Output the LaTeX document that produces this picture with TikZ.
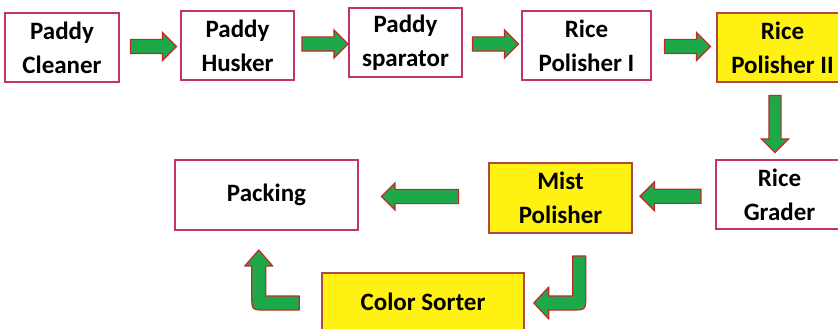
\documentclass[tikz,border=0pt]{standalone}
\usepackage{fontspec}
\setmainfont{Carlito}
\usepackage{tikz}
\usetikzlibrary{shapes.arrows,positioning}
\definecolor{BoxEdge}{HTML}{C0336B}
\definecolor{SortEdge}{HTML}{B04848}
\definecolor{Lemon}{HTML}{FFF212}
\definecolor{LeafGreen}{HTML}{1DA84A}
\definecolor{ArrowRim}{HTML}{C62828}

\begin{document}
\begin{tikzpicture}[x=1pt, y=-1pt,
  stage/.style={draw=BoxEdge, line width=1.5pt, fill=white, minimum height=69pt,
    align=center, inner sep=2pt, font=\bfseries\fontsize{25}{34}\selectfont},
  hot/.style={stage, draw=SortEdge, fill=Lemon},
  flowarrow/.style={single arrow, draw=ArrowRim, fill=LeafGreen, line width=1.2pt,
    inner xsep=0pt, inner ysep=6.5pt, single arrow head extend=7pt, minimum width=0pt},
  bentarrow/.style={draw=ArrowRim, fill=LeafGreen, line width=1.2pt, line join=round}]
  \fill[white] (0,0) rectangle (838,329);
  \useasboundingbox (0,0) rectangle (838,329);
  % top row
  \node[stage, minimum width=114pt] (cleaner) at (62,47.5) {Paddy\\Cleaner};
  \node[stage, minimum width=113pt] (husker) at (237.5,45.5) {Paddy\\Husker};
  \node[stage, minimum width=113pt] (separator) at (405.5,42.5) {Paddy\\sparator};
  \node[stage, minimum width=129pt] (polishA) at (586.5,45.5) {Rice\\Polisher I};
  \node[hot, minimum width=131pt] (polishB) at (782.5,47.5) {Rice\\Polisher II};
  % bottom rows
  \node[stage, minimum width=127pt] (grader) at (779.5,194.5) {Rice\\Grader};
  \node[hot, minimum width=143pt, minimum height=70pt] (mist) at (560.5,198) {Mist\\Polisher};
  \node[stage, minimum width=183pt, minimum height=70pt] (packing) at (266.5,195) {Packing};
  \node[hot, minimum width=202pt, minimum height=58pt] (sorter) at (423,302) {Color Sorter};
  % straight arrows
  \foreach \a/\b in {cleaner/husker, husker/separator, separator/polishA, polishA/polishB}
    \path (\a.east) -- (\b.west) node[midway, flowarrow, minimum height=46pt] {};
  \path ([xshift=-6pt]polishB.south) -- ([xshift=-6pt]grader.north)
    node[midway, flowarrow, rotate=-90, minimum height=57pt, inner ysep=5.5pt,
      single arrow head extend=7.5pt] {};
  \path (grader.west) -- (mist.east)
    node[midway, flowarrow, rotate=180, minimum height=61pt, single arrow head extend=7.5pt] {};
  \path (mist.west) -- (packing.east)
    node[midway, flowarrow, rotate=180, minimum height=77pt, single arrow head extend=6.5pt] {};
  % bent arrows round the sorter
  \begin{scope}[shift={(sorter.east)}]
    \draw[bentarrow] (48,-46) -- (61,-46) -- (61,-6) .. controls (61,8) .. (47,8)
      -- (24,8) -- (24,17) -- (9,1) -- (24,-15) -- (24,-6) -- (48,-6) -- cycle;
  \end{scope}
  \begin{scope}[shift={(sorter.west)}]
    \draw[bentarrow] (-22,-6) -- (-55.5,-6) -- (-55.5,-36) -- (-48.5,-36) -- (-62.5,-52)
      -- (-76.5,-36) -- (-69.5,-36) -- (-69.5,-6) .. controls (-69.5,8) .. (-55.5,8)
      -- (-22,8) -- cycle;
  \end{scope}
\end{tikzpicture}
\end{document}
